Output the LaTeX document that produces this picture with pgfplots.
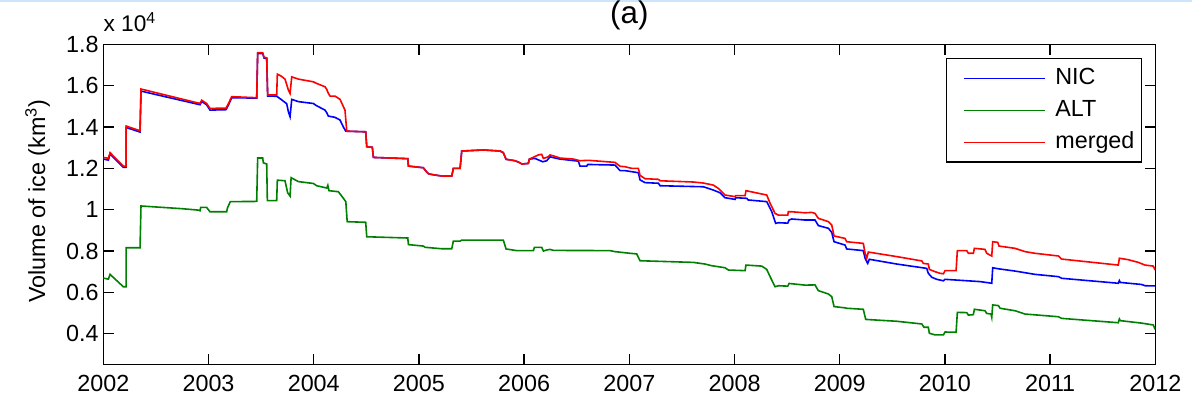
\documentclass[border=0pt]{standalone}
\usepackage{fontspec}
\setmainfont{Liberation Sans}
\usepackage{pgfplots}
\pgfplotsset{compat=1.18}
\definecolor{nicblue}{rgb}{0,0,1}
\definecolor{altgreen}{rgb}{0,0.5,0}
\definecolor{mergedred}{rgb}{1,0,0}
\definecolor{edgeblue}{RGB}{204,228,252}
\newcommand{\labelfont}{\fontsize{17.5}{20}\selectfont}

\begin{document}
\begin{tikzpicture}
\useasboundingbox (-77.5pt,-34.7pt) rectangle (816.5pt,273.5pt);
\fill[edgeblue] (-77.5pt,272pt) rectangle (816.5pt,273.5pt);
\begin{axis}[
  name=ax,
  at={(0pt,0pt)}, anchor=south west,
  scale only axis, width=789pt, height=240.2pt,
  xmin=2002, xmax=2012, ymin=0.25, ymax=1.8,
  xtick={2002,2003,2004,2005,2006,2007,2008,2009,2010,2011,2012},
  ytick={0.4,0.6,0.8,1,1.2,1.4,1.6,1.8},
  tick align=inside, major tick length=8pt,
  axis line style={line width=1.1pt},
  every tick/.style={black, line width=1pt},
  tick label style={font=\labelfont},
  /pgf/number format/assume math mode=true,
  /pgf/number format/1000 sep={},
  xticklabel style={yshift=-4pt},
  every axis plot/.append style={line width=1.2pt},
  legend cell align=left,
  legend style={at={(1,1)}, anchor=north east, xshift=-10.3pt, yshift=-10.3pt,
    draw=black, line width=0.8pt, inner xsep=0pt, inner ysep=6.25pt,
    row sep=7pt, font=\labelfont,
    nodes={inner xsep=0pt, inner ysep=0pt, text height=13pt, text depth=4pt,
      text width=64.3pt, align=left}},
  legend image code/.code={\path (0pt,0pt); \draw[#1, line width=1.1pt] (12.5pt,0pt) -- (73.3pt,0pt); \path (80.3pt,0pt);},
]
% NIC ice volume (10^4 km^3)
\addplot[nicblue] coordinates {
(2002.000,1.245) (2002.048,1.240) (2002.064,1.270) (2002.190,1.205) (2002.216,1.205)
(2002.216,1.398) (2002.349,1.376) (2002.358,1.574) (2002.919,1.508) (2002.935,1.524)
(2002.982,1.508) (2003.014,1.482) (2003.166,1.484) (2003.188,1.505) (2003.220,1.542)
(2003.458,1.540) (2003.467,1.756) (2003.515,1.756) (2003.527,1.734) (2003.553,1.731)
(2003.562,1.550) (2003.648,1.549) (2003.689,1.534) (2003.743,1.513) (2003.759,1.474)
(2003.775,1.450) (2003.791,1.534) (2003.854,1.523) (2003.996,1.514) (2004.028,1.503)
(2004.107,1.482) (2004.124,1.469) (2004.139,1.453) (2004.202,1.447) (2004.250,1.434)
(2004.282,1.400) (2004.305,1.380) (2004.494,1.377) (2004.504,1.305) (2004.557,1.302)
(2004.567,1.253) (2004.894,1.247) (2004.900,1.211) (2005.042,1.203) (2005.058,1.192)
(2005.090,1.174) (2005.137,1.169) (2005.217,1.163) (2005.312,1.163) (2005.327,1.200)
(2005.391,1.200) (2005.407,1.284) (2005.612,1.289) (2005.771,1.284) (2005.802,1.276)
(2005.828,1.244) (2005.913,1.237) (2005.961,1.227) (2005.977,1.221) (2006.040,1.224)
(2006.050,1.245) (2006.104,1.248) (2006.177,1.232) (2006.215,1.237) (2006.246,1.256)
(2006.294,1.250) (2006.341,1.245) (2006.515,1.235) (2006.531,1.211) (2006.595,1.211)
(2006.605,1.219) (2006.864,1.216) (2006.912,1.189) (2006.959,1.189) (2007.086,1.179)
(2007.102,1.144) (2007.149,1.131) (2007.276,1.128) (2007.292,1.116) (2007.703,1.111)
(2007.799,1.095) (2007.862,1.082) (2007.910,1.058) (2008.005,1.050) (2008.011,1.058)
(2008.116,1.055) (2008.131,1.047) (2008.306,1.039) (2008.354,0.990) (2008.391,0.934)
(2008.417,0.937) (2008.506,0.935) (2008.518,0.950) (2008.544,0.955) (2008.670,0.950)
(2008.765,0.950) (2008.797,0.923) (2008.892,0.910) (2008.924,0.890) (2008.946,0.845)
(2009.050,0.829) (2009.066,0.810) (2009.224,0.802) (2009.241,0.765) (2009.266,0.740)
(2009.281,0.760) (2009.542,0.737) (2009.827,0.716) (2009.842,0.692) (2009.875,0.673)
(2009.922,0.663) (2009.985,0.656) (2010.001,0.663) (2010.334,0.652) (2010.445,0.644)
(2010.454,0.719) (2010.508,0.714) (2010.666,0.703) (2010.857,0.687) (2011.078,0.676)
(2011.110,0.668) (2011.648,0.644) (2011.658,0.657) (2011.667,0.648) (2011.871,0.638)
(2011.902,0.632) (2011.997,0.631)
};
\addlegendentry{NIC}
% altimetry-based ice volume
\addplot[altgreen] coordinates {
(2002.000,0.669) (2002.048,0.664) (2002.064,0.687) (2002.190,0.627) (2002.216,0.627)
(2002.216,0.816) (2002.349,0.816) (2002.358,1.018) (2002.745,1.005) (2002.903,0.998)
(2002.919,0.995) (2002.925,1.011) (2002.982,1.011) (2003.014,0.990) (2003.172,0.990)
(2003.181,1.010) (2003.207,1.039) (2003.458,1.040) (2003.467,1.250) (2003.515,1.250)
(2003.521,1.227) (2003.553,1.221) (2003.559,1.044) (2003.648,1.044) (2003.654,1.143)
(2003.727,1.140) (2003.752,1.082) (2003.775,1.066) (2003.785,1.155) (2003.854,1.136)
(2003.996,1.127) (2004.028,1.116) (2004.124,1.105) (2004.134,1.118) (2004.145,1.092)
(2004.234,1.087) (2004.266,1.066) (2004.305,1.039) (2004.318,0.942) (2004.494,0.939)
(2004.504,0.869) (2004.894,0.863) (2004.900,0.831) (2005.042,0.824) (2005.058,0.818)
(2005.217,0.811) (2005.312,0.811) (2005.327,0.848) (2005.391,0.848) (2005.407,0.853)
(2005.802,0.853) (2005.828,0.810) (2005.929,0.802) (2006.088,0.802) (2006.098,0.818)
(2006.167,0.818) (2006.183,0.800) (2006.215,0.805) (2006.246,0.808) (2006.278,0.803)
(2006.817,0.802) (2006.864,0.797) (2007.007,0.789) (2007.070,0.786) (2007.102,0.753)
(2007.608,0.745) (2007.719,0.737) (2007.783,0.729) (2007.910,0.719) (2007.942,0.708)
(2008.100,0.705) (2008.109,0.732) (2008.259,0.727) (2008.306,0.711) (2008.338,0.676)
(2008.385,0.627) (2008.417,0.632) (2008.506,0.630) (2008.518,0.643) (2008.670,0.635)
(2008.765,0.636) (2008.797,0.608) (2008.892,0.592) (2008.924,0.579) (2008.946,0.531)
(2009.050,0.525) (2009.066,0.523) (2009.224,0.518) (2009.247,0.469) (2009.542,0.460)
(2009.780,0.447) (2009.801,0.431) (2009.842,0.431) (2009.852,0.402) (2009.906,0.394)
(2009.985,0.394) (2010.001,0.408) (2010.106,0.407) (2010.118,0.503) (2010.207,0.502)
(2010.223,0.490) (2010.270,0.492) (2010.280,0.518) (2010.381,0.511) (2010.397,0.498)
(2010.438,0.495) (2010.445,0.479) (2010.454,0.539) (2010.508,0.536) (2010.524,0.523)
(2010.666,0.511) (2010.761,0.495) (2011.078,0.482) (2011.110,0.474) (2011.648,0.453)
(2011.658,0.471) (2011.667,0.463) (2011.871,0.451) (2011.981,0.442) (2011.997,0.421)
};
\addlegendentry{ALT}
% merged ice volume
\addplot[mergedred] coordinates {
(2002.000,1.253) (2002.048,1.249) (2002.064,1.276) (2002.190,1.211) (2002.216,1.211)
(2002.216,1.405) (2002.349,1.382) (2002.358,1.584) (2002.919,1.514) (2002.935,1.530)
(2002.982,1.514) (2003.014,1.490) (2003.166,1.492) (2003.188,1.512) (2003.220,1.547)
(2003.458,1.542) (2003.467,1.760) (2003.515,1.760) (2003.527,1.738) (2003.553,1.735)
(2003.562,1.555) (2003.648,1.555) (2003.654,1.656) (2003.689,1.647) (2003.727,1.632)
(2003.759,1.579) (2003.775,1.563) (2003.791,1.643) (2003.854,1.632) (2003.996,1.619)
(2004.028,1.611) (2004.107,1.595) (2004.124,1.582) (2004.139,1.563) (2004.155,1.550)
(2004.202,1.550) (2004.250,1.534) (2004.297,1.482) (2004.314,1.380) (2004.494,1.377)
(2004.504,1.305) (2004.557,1.302) (2004.567,1.253) (2004.894,1.247) (2004.900,1.211)
(2005.042,1.203) (2005.058,1.192) (2005.090,1.174) (2005.137,1.169) (2005.217,1.163)
(2005.312,1.163) (2005.327,1.200) (2005.391,1.200) (2005.407,1.284) (2005.612,1.289)
(2005.771,1.284) (2005.802,1.276) (2005.828,1.244) (2005.913,1.237) (2005.961,1.227)
(2005.977,1.221) (2006.040,1.224) (2006.050,1.245) (2006.135,1.265) (2006.167,1.268)
(2006.183,1.248) (2006.230,1.256) (2006.246,1.265) (2006.294,1.258) (2006.341,1.250)
(2006.468,1.245) (2006.531,1.237) (2006.610,1.239) (2006.864,1.229) (2006.912,1.210)
(2006.959,1.208) (2007.023,1.200) (2007.086,1.200) (2007.102,1.166) (2007.149,1.150)
(2007.276,1.147) (2007.292,1.140) (2007.608,1.134) (2007.703,1.129) (2007.799,1.119)
(2007.846,1.103) (2007.910,1.071) (2008.005,1.063) (2008.011,1.068) (2008.100,1.068)
(2008.109,1.092) (2008.259,1.076) (2008.306,1.071) (2008.338,1.031) (2008.385,0.982)
(2008.417,0.974) (2008.506,0.974) (2008.511,0.990) (2008.544,0.990) (2008.670,0.985)
(2008.734,0.987) (2008.765,0.982) (2008.797,0.958) (2008.892,0.942) (2008.924,0.926)
(2008.946,0.873) (2009.050,0.861) (2009.066,0.845) (2009.224,0.837) (2009.241,0.789)
(2009.257,0.765) (2009.272,0.795) (2009.542,0.773) (2009.780,0.752) (2009.795,0.740)
(2009.842,0.737) (2009.852,0.711) (2009.906,0.700) (2009.954,0.692) (2009.985,0.690)
(2010.001,0.705) (2010.106,0.705) (2010.118,0.802) (2010.207,0.802) (2010.223,0.789)
(2010.270,0.789) (2010.280,0.813) (2010.381,0.808) (2010.397,0.789) (2010.445,0.776)
(2010.454,0.845) (2010.502,0.842) (2010.514,0.824) (2010.666,0.813) (2010.761,0.797)
(2010.857,0.789) (2011.078,0.776) (2011.110,0.761) (2011.648,0.732) (2011.658,0.765)
(2011.743,0.758) (2011.838,0.745) (2011.902,0.732) (2011.981,0.727) (2011.997,0.708)
};
\addlegendentry{merged}
\end{axis}
\node[anchor=base, font=\fontsize{23.5}{26}\selectfont] at (394.5pt,255.7pt) {(a)};
\node[anchor=base west, inner sep=0pt, font=\fontsize{17}{19}\selectfont] at (0pt,249.5pt) {x 10\textsuperscript{4}};
\node[rotate=90, anchor=base, inner sep=0pt, font=\labelfont] at (-43.7pt,122.7pt) {Volume of ice (km\textsuperscript{3})};
\end{tikzpicture}
\end{document}
